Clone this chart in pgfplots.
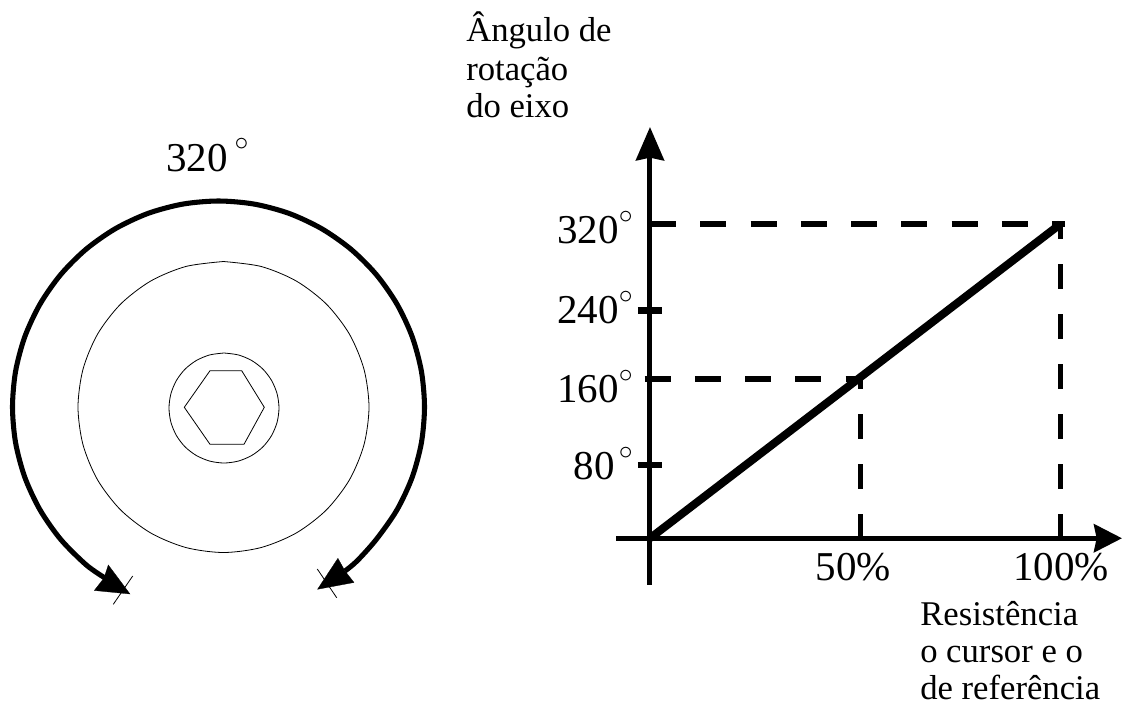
\documentclass[border=0pt]{standalone}
\usepackage{fontspec}
\setmainfont{Liberation Serif}
\usepackage{pgfplots}
\pgfplotsset{compat=1.18}
\usetikzlibrary{arrows.meta}

% 1 image pixel = 0.75pt
\newcommand{\bigtxt}{\fontsize{30.75}{36}\selectfont}
\newcommand{\smalltxt}{\fontsize{26}{30}\selectfont}
\newcommand{\dg}{\raisebox{6pt}{$^\circ$}}
% tick label whose baseline sits #1 from the tick
\newcommand{\ylab}[2]{\raisebox{#1}[0pt][0pt]{\bigtxt #2}}

\begin{document}
\begin{tikzpicture}
\useasboundingbox (0,0) rectangle (841.5pt,530.25pt);

% dial and free text, in pixel coordinates of the picture
\begin{axis}[
  at={(0,0)}, anchor=south west,
  scale only axis, width=841.5pt, height=530.25pt,
  xmin=0, xmax=1122, ymin=0, ymax=707, y dir=reverse,
  hide axis, clip=false,
]
  % outer arc
  \addplot[black, line width=3.8pt, smooth] coordinates {
    (105,578) (86.1,564.8) (60.7,539.4) (40.1,510) (24.9,477.5) (15.6,442.8) (12.5,407)
    (15.6,371.2) (24.9,336.5) (40.1,304) (60.7,274.6) (86.1,249.2) (115.5,228.6) (148,213.4)
    (182.7,204.1) (218.5,201) (254.3,204.1) (289,213.4) (321.5,228.6) (350.9,249.2)
    (376.3,274.6) (396.9,304) (412.1,336.5) (421.4,371.2) (424.5,407) (421.4,442.8)
    (412.1,477.5) (396.9,510) (376.3,539.4) (357,561) (345,571)
  };
  % arrow heads
  \addplot[black, fill=black, line width=0.2pt] coordinates {
    (130,594) (94.3,590.5) (104,578) (108.3,565) } --cycle;
  \addplot[black, fill=black, line width=0.2pt] coordinates {
    (317.5,589.3) (337.9,558.3) (345,571) (354,582.5) } --cycle;
  % end marks
  \addplot[black, line width=0.6pt] coordinates {(113.3,604.3) (132.7,576)};
  \addplot[black, line width=0.6pt] coordinates {(317.3,569) (336.7,597.7)};
  % middle ring
  \addplot[black, line width=0.6pt, smooth] coordinates {
    (223.5,261.5) (261.2,266.5) (296.25,281) (326.4,304.1) (349.5,334.25) (364,369.3)
    (369,407) (364,444.7) (349.5,479.75) (326.4,509.9) (296.25,533) (261.2,547.5)
    (223.5,552.5) (185.8,547.5) (150.75,533) (120.6,509.9) (97.5,479.75) (83,444.7)
    (78,407) (83,369.3) (97.5,334.25) (120.6,304.1) (150.75,281) (185.8,266.5) (223.5,261.5)
  };
  % inner ring
  \addplot[black, line width=0.6pt, smooth] coordinates {
    (224,353) (238.2,354.9) (251.5,360.4) (262.9,369.1) (271.6,380.5) (277.1,393.8)
    (279,408) (277.1,422.2) (271.6,435.5) (262.9,446.9) (251.5,455.6) (238.2,461.1)
    (224,463) (209.8,461.1) (196.5,455.6) (185.1,446.9) (176.4,435.5) (170.9,422.2)
    (169,408) (170.9,393.8) (176.4,380.5) (185.1,369.1) (196.5,360.4) (209.8,354.9) (224,353)
  };
  % hexagon
  \addplot[black, line width=0.6pt] coordinates {
    (184.3,407.3) (210,370.7) (241.7,370.7) (264.3,407.3) (244,444.3) (210,444.3) } --cycle;

  \node[anchor=base west, inner sep=0pt] at (axis cs:166,171) {\bigtxt 320\,\dg};

  \node[anchor=base west, inner sep=0pt] at (axis cs:466,41.7) {\smalltxt Ângulo de};
  \node[anchor=base west, inner sep=0pt] at (axis cs:466,80) {\smalltxt rotação};
  \node[anchor=base west, inner sep=0pt] at (axis cs:466,117) {\smalltxt do eixo};

  \node[anchor=base west, inner sep=0pt] at (axis cs:920,625) {\smalltxt Resistência};
  \node[anchor=base west, inner sep=0pt] at (axis cs:920,662) {\smalltxt o cursor e o};
  \node[anchor=base west, inner sep=0pt] at (axis cs:920,699) {\smalltxt de referência};
\end{axis}

% transfer chart
\begin{axis}[
  at={(462pt,91.5pt)}, anchor=south west,
  scale only axis, width=379.5pt, height=343.5pt,
  xmin=-8.28, xmax=114.98, ymin=-47.6, ymax=418.8,
  axis lines=middle, clip=false,
  axis line style={black, line width=3.75pt},
  x axis line style={-{Stealth[length=21pt, width=21pt, inset=2pt]}},
  y axis line style={-{Stealth[length=25pt, width=21pt, inset=2pt]}},
  xtick={51.2}, xticklabels={50\%},
  extra x ticks={100}, extra x tick labels={100\%},
  extra x tick style={xticklabel style={xshift=5.5pt}},
  ytick={74.6,231.8},
  yticklabels={\ylab{-11.25pt}{80\kern3pt\dg},\ylab{-10pt}{240\dg}},
  extra y ticks={161.9,320},
  extra y tick labels={\ylab{-17.5pt}{160\dg},\ylab{-14.6pt}{320\dg}},
  extra y tick style={major tick length=0pt, yticklabel style={xshift=-9pt}},
  tick align=center,
  major tick length=18pt,
  y tick style={black, line width=5pt},
  x tick style={draw=none},
  minor tick num=0,
  tick label style={black},
  xticklabel style={font=\bigtxt, yshift=1pt, xshift=-5pt},
]
  \addplot[black, line width=4.5pt, dash pattern=on 19.5pt off 18.2pt] coordinates {(0,320) (101,320)};
  \addplot[black, line width=4.5pt, dash pattern=on 19.5pt off 18.2pt] coordinates {(-1.3,161.9) (52,161.9)};
  \addplot[black, line width=3.75pt, dash pattern=on 18.75pt off 18.75pt, dash phase=7.5pt] coordinates {(100,320) (100,0)};
  \addplot[black, line width=3.75pt, dash pattern=on 18.75pt off 18.75pt, dash phase=11.25pt] coordinates {(51.2,161.9) (51.2,0)};
  \addplot[black, line width=6pt] coordinates {(0,0) (100,320)};
\end{axis}
\end{tikzpicture}
\end{document}
